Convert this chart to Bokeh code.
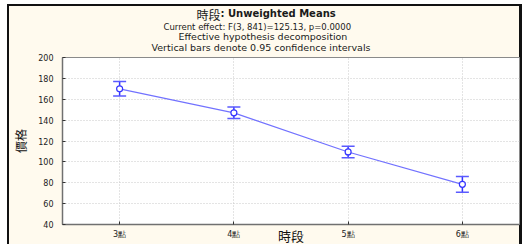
from bokeh.plotting import figure
from bokeh.models import (FactorRange, Range1d, Title, Whisker, TeeHead,
                          ColumnDataSource, FixedTicker)
from bokeh.embed import file_html
from bokeh.resources import INLINE

# ---- data ----
periods = ["3點", "4點", "5點", "6點"]
means = [170.0, 147.0, 109.5, 78.5]
upper = [177.0, 152.5, 115.0, 86.0]
lower = [163.0, 141.5, 104.0, 71.0]
y_ticks = [40, 60, 80, 100, 120, 140, 160, 180, 200]

title_main = "時段"
title_rest = ": Unweighted Means"
sub_lines = ["Current effect: F(3, 841)=125.13, p=0.0000",
             "Effective hypothesis decomposition",
             "Vertical bars denote 0.95 confidence intervals"]
x_label = "時段"
y_label = "價格"

CREAM = "#FFFAEE"
SANS = "DejaVu Sans"
CJK = "Noto Sans CJK TC"

src = ColumnDataSource(dict(x=periods, y=means, up=upper, lo=lower))

p = figure(x_range=FactorRange(*periods, range_padding=0),
           y_range=Range1d(40, 200),
           frame_width=457, frame_height=167,
           min_border_left=62, min_border_right=3,
           min_border_top=57, min_border_bottom=20,
           output_backend="svg", toolbar_location=None)
p.title.visible = False
p.border_fill_alpha = 0
p.background_fill_color = "white"
p.outline_line_color = "#8a8a8a"
p.outline_line_width = 1
p.styles = {"background-color": CREAM,
            "box-shadow": "inset 7px 4px 0 0 #ffffff, inset 9px 6px 0 0 #111111, "
                          "inset -3px 0 0 0 #111111"}

# axes
for ax in (p.xaxis[0], p.yaxis[0]):
    ax.axis_line_color = "#707070"
    ax.axis_line_width = 1.5
    ax.major_tick_in = 3
    ax.major_tick_out = 0
    ax.major_tick_line_color = "#333333"
    ax.minor_tick_line_color = None
    ax.major_label_text_font = SANS
    ax.major_label_text_font_size = "8px"
    ax.major_label_text_color = "#222222"
    ax.axis_label_text_font = CJK
    ax.axis_label_text_font_style = "normal"
    ax.axis_label_text_color = "#111111"

p.yaxis.ticker = FixedTicker(ticks=y_ticks)
p.yaxis.major_label_standoff = 9
p.xaxis.major_label_standoff = 5
p.yaxis.axis_label = y_label
p.yaxis.axis_label_text_font_size = "12px"
p.yaxis.axis_label_standoff = 6

# grid
p.xgrid.grid_line_color = "#c8c8c8"
p.ygrid.grid_line_color = "#c8c8c8"
p.xgrid.grid_line_dash = "1 2"
p.ygrid.grid_line_dash = "1 2"

# data
p.line("x", "y", source=src, line_color="#7272ff", line_width=1.2)
wh = Whisker(base="x", upper="up", lower="lo", source=src,
             line_color="#3434ff", line_width=1.5,
             upper_head=TeeHead(size=13, line_color="#5a5aff", line_width=1.5),
             lower_head=TeeHead(size=13, line_color="#5a5aff", line_width=1.5))
p.add_layout(wh)
p.scatter("x", "y", source=src, size=6, marker="circle",
          fill_color="white", line_color="#3434ff", line_width=1.2)

# title block: rows stacked upward from the frame
def ttl(text, font, size, offset, standoff, bold=False):
    return Title(text=text, align="left", vertical_align="bottom",
                 offset=offset, standoff=standoff, text_font=font,
                 text_font_size=size, text_color="#1a1a1a",
                 text_font_style="bold" if bold else "normal")

p.add_layout(ttl(sub_lines[2], SANS, "9.5px", 89, 8.9), "above")
p.add_layout(ttl(sub_lines[1], SANS, "9.5px", 116, -13.1), "above")
p.add_layout(ttl(sub_lines[0], SANS, "8.5px", 101, 7.2), "above")
p.add_layout(ttl(title_rest, SANS, "10px", 158, -5.9, bold=True), "above")
p.add_layout(ttl(title_main, CJK, "12px", 134, -27.2), "above")

# x axis title, sharing the row of the tick labels (between ticks)
p.add_layout(Title(text=x_label, align="center", vertical_align="top",
                   standoff=-32, text_font=CJK, text_font_size="13px",
                   text_font_style="normal", text_color="#111111"), "below")

open("out.html", "w").write(file_html(p, INLINE))
